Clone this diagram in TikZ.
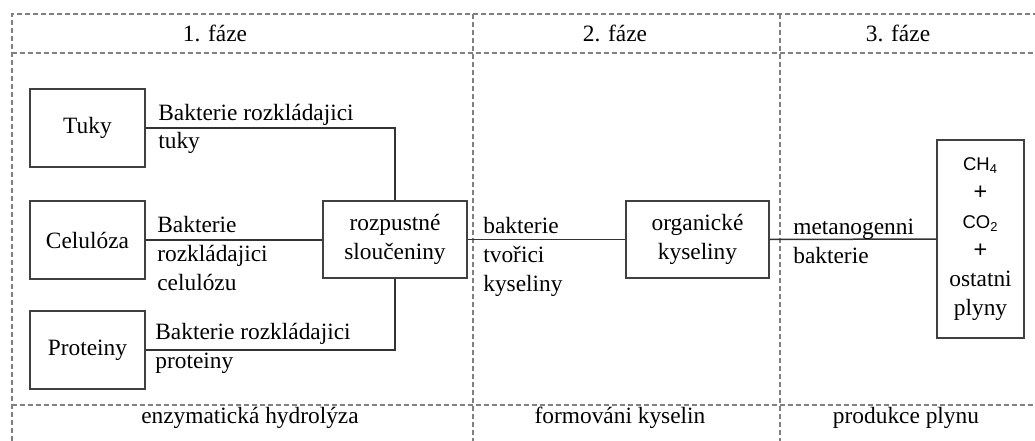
\documentclass[tikz,border=0pt]{standalone}
\usepackage{fontspec}
\setmainfont{Liberation Serif}
\setsansfont{Liberation Sans}
\usetikzlibrary{positioning}

\begin{document}
\begin{tikzpicture}[x=0.2mm, y=-0.2mm,
  txt/.style={font=\fontsize{13.3}{16.5}\selectfont, inner sep=0pt},
  box/.style={txt, draw=black!75, line width=0.4mm, align=center},
  lbl/.style={txt, align=left, anchor=base west},
  edge/.style={draw=black!80, line width=0.3mm},
  phase/.style={draw=black!50, line width=0.3mm, dash pattern=on 1mm off 0.6mm}]
\useasboundingbox (0,0) rectangle (1035,441);

% frame
\draw[phase] (12,441) -- (12,14) -- (1035,14);
\draw[phase] (12,53) -- (1035,53);
\draw[phase] (12,405) -- (1035,405);
\foreach \x in {473,780}{\draw[phase] (\x,14) -- (\x,441);}

% headings
\node[txt, anchor=base] (h1) at (215,42) {1. fáze};
\node[txt, anchor=base] (h2) at (615,42) {2. fáze};
\node[txt, anchor=base] (h3) at (898,42) {3. fáze};
\node[txt, anchor=base] (f1) at (250,423) {enzymatická hydrolýza};
\node[txt, anchor=base] (f2) at (620,423) {formováni kyselin};
\node[txt, anchor=base] (f3) at (906,423) {produkce plynu};

% nodes
\node[box, minimum width=23mm, minimum height=15.6mm] (tuky) at (87.5,128) {Tuky};
\node[box, minimum width=23mm, minimum height=15.6mm] (cel) at (87.5,240) {Celulóza};
\node[box, minimum width=23mm, minimum height=15.6mm] (prot) at (87.5,350) {Proteiny};
\node[box, minimum width=28.8mm, minimum height=15.4mm] (rozp) at (395,239.5) {rozpustné\\sloučeniny};
\node[box, minimum width=28.6mm, minimum height=15.4mm] (org) at (697.5,239.5) {organické\\kyseliny};
\node[box, minimum width=17.4mm, minimum height=39.6mm] (plyn) at (980.5,239)
  {{\sffamily\fontsize{10.5}{16.5}\selectfont CH\textsubscript{4}}\\{\sffamily +}\\
   {\sffamily\fontsize{10.5}{16.5}\selectfont CO\textsubscript{2}}\\{\sffamily +}\\ostatni\\plyny};

% edges
\draw[edge] (tuky.east) -| (rozp.north);
\draw[edge] (cel.east) -- (cel.east -| rozp.west);
\draw[edge] (prot.east) -| (rozp.south);
\draw[edge] (rozp.east) -- (org.west);
\draw[edge] (org.east) -- (plyn.west);

% labels (base = last line)
\node[lbl] (lt) at (158,149) {Bakterie rozkládajici\\tuky};
\node[lbl] (lc) at (157,290) {Bakterie\\rozkládajici\\celulózu};
\node[lbl] (lp) at (155,368) {Bakterie rozkládajici\\proteiny};
\node[lbl] (lk) at (483,291) {bakterie\\tvořici\\kyseliny};
\node[lbl] (lm) at (793,263) {metanogenni\\bakterie};
\end{tikzpicture}
\end{document}
